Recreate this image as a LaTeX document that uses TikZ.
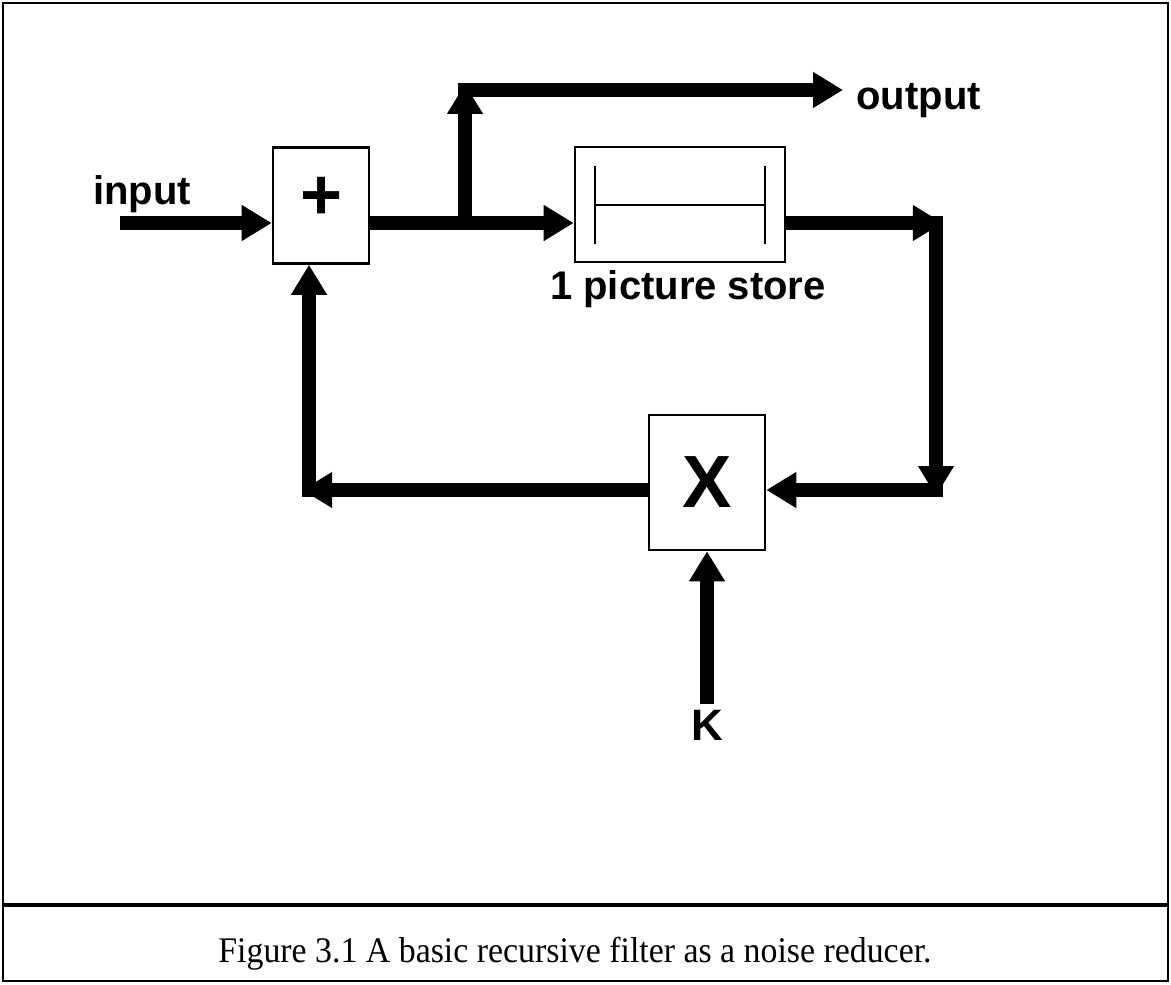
\documentclass[tikz,border=0pt]{standalone}
\usepackage{fontspec}
\setmainfont{Liberation Sans}
\newfontfamily\capfont[FakeStretch=0.94]{Liberation Serif}
\usetikzlibrary{arrows.meta,positioning}
\tikzset{
  block/.style={
    rectangle,
    draw=black,
    line width=1.3pt,
    inner sep=0pt,
    font=\bfseries
  },
  arrow/.style={
    -{Triangle[length=15pt,width=17pt]},
    line width=6.8pt
  },
  wire/.style={
    line width=6.8pt
  },
  tag/.style={
    font=\bfseries\fontsize{20}{22}\selectfont,
    inner sep=0pt
  }
}

\begin{document}
\begin{tikzpicture}[x=0.5pt,y=-0.5pt]

\useasboundingbox (0,0) rectangle (1171,984);
\draw[line width=1.2pt] (3,3) rectangle (1168,981);
\draw[line width=1.8pt] (3,905) -- (1168,905);

% blocks
\node[block, minimum width=48pt, minimum height=58pt] (plus) at (321,205.5) {};
\node[font=\bfseries\fontsize{36}{36}\selectfont] at (322,198) {+};
\node[block, minimum width=105pt, minimum height=57.5pt] (store) at (680,204.5) {};
\draw[line width=1.2pt] (595,166) -- (595,244);
\draw[line width=1.2pt] (765,166) -- (765,244);
\draw[line width=1.2pt] (595,205) -- (765,205);
\node[block, minimum width=58pt, minimum height=67.5pt,
      font=\bfseries\fontsize{37}{37}\selectfont] (mult) at (707,482.5) {X};

% labels
\node[tag, anchor=base west] (inlbl) at (93,205) {input};
\node[tag, anchor=base west] (outlbl) at (856,110) {output};
\node[tag, anchor=north] (storelbl) at (688,270) {1 picture store};
\node[tag, font=\bfseries\fontsize{22}{24}\selectfont, anchor=north] (klbl) at (707,710) {K};

% corners
\coordinate (in) at (120,223);
\coordinate (j) at (465,223);
\coordinate (up) at (465,90);
\coordinate (ne) at (936,223);
\coordinate (se) at (936,490);
\coordinate (sw) at (309,490);

% connectors
\draw[arrow] (in) -- (plus.west |- in);
\draw[wire] (plus.east |- j) -- (j);
\draw[arrow] (j) -- (store.west |- j);
\draw[arrow] (j) -- ([yshift=3pt]up);
\draw[arrow] ([xshift=-3.4pt]up) -- ([xshift=-6.5pt]up -| outlbl.west);
\draw[arrow] (store.east |- ne) -- ([xshift=3.4pt]ne);
\draw[arrow] ([yshift=3.4pt]ne) -- ([yshift=-3pt]se);
\draw[arrow] ([xshift=3.4pt]se) -- (mult.east |- se);
\draw[arrow] (mult.west |- se) -- ([xshift=-3.4pt]sw);
\draw[arrow] ([yshift=-3.4pt]sw) -- (plus.south -| sw);
\draw[arrow] ([yshift=3pt]mult.south |- klbl.north) -- (mult.south);

% caption
\node[font=\capfont\fontsize{18}{20}\selectfont, anchor=base] (caption) at (575,962)
  {Figure 3.1 A basic recursive filter as a noise reducer.};

\end{tikzpicture}
\end{document}
